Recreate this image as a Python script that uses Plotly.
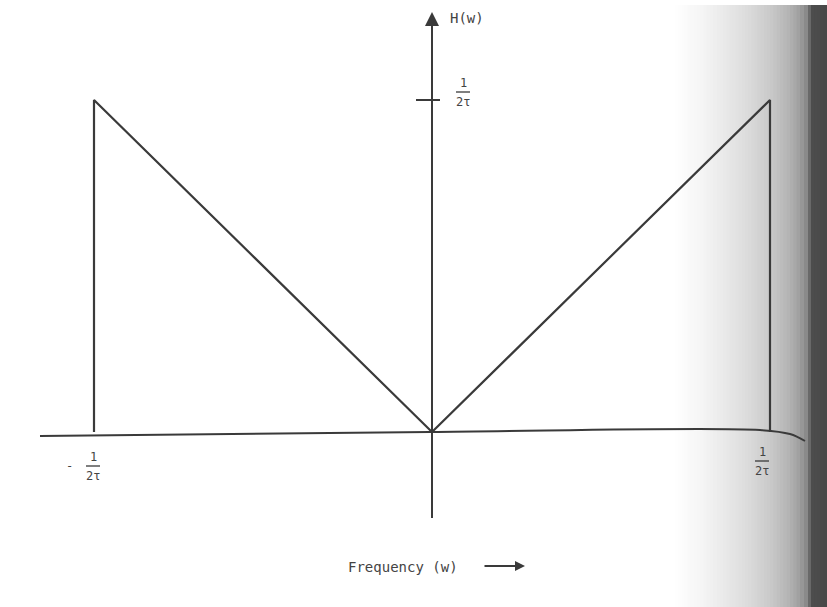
import plotly.graph_objects as go

# Ramp filter |w| up to cutoff 1/(2*tau); frequency in units of 1/tau
freq = [-0.5, -0.5, 0.0, 0.5, 0.5]
H = [0.0, 0.5, 0.0, 0.5, 0.0]
cutoff = 0.5
peak = 0.5
tick_label = "2τ"

W, Hpx = 827, 607
x0px, y0px = 432, 432
sx, sy = 676.0, 664.0
xr = [-x0px / sx, (W - x0px) / sx]
yr = [-(Hpx - y0px) / sy, y0px / sy]

def X(px):
    return (px - x0px) / sx

def Y(py):
    return (y0px - py) / sy

def PX(px):
    return px / W

ink = "#3a3a3a"
fig = go.Figure()

# scanner shadow on right edge
grad = [(675, 255), (700, 246), (720, 236), (745, 222), (770, 202), (790, 178), (800, 158), (808, 132), (811, 78), (827, 72)]
for i in range(len(grad) - 1):
    (pa, ga), (pb, gb) = grad[i], grad[i + 1]
    steps = max(1, (pb - pa) // 3)
    for k in range(steps):
        xa = pa + (pb - pa) * k / steps
        xb = pa + (pb - pa) * (k + 1) / steps
        g = int(ga + (gb - ga) * (k + 0.5) / steps)
        fig.add_shape(type="rect", xref="paper", yref="paper", x0=PX(xa), x1=min(1.0, PX(xb) + 0.0015),
                      y0=0, y1=1 - 5 / Hpx, line_width=0, fillcolor=f"rgb({g},{g},{g})", layer="below")

# horizontal axis (slight curl at right end like the drawing)
fig.add_trace(go.Scatter(x=[X(40), X(430), X(760), X(790), X(805)], y=[Y(436), Y(432), Y(430), Y(434), Y(441)],
                         mode="lines", line=dict(color=ink, width=2, shape="spline"), hoverinfo="skip"))
# vertical axis
fig.add_trace(go.Scatter(x=[0, 0], y=[Y(518), Y(22)], mode="lines",
                         line=dict(color=ink, width=2), hoverinfo="skip"))
fig.add_annotation(x=0, y=Y(12), ax=0, ay=Y(40), xref="x", yref="y", axref="x", ayref="y",
                   showarrow=True, arrowhead=2, arrowsize=1.4, arrowwidth=2, arrowcolor=ink, text="")
# tick on vertical axis at 1/(2 tau)
fig.add_trace(go.Scatter(x=[X(416), X(440)], y=[peak, peak], mode="lines",
                         line=dict(color=ink, width=2), hoverinfo="skip"))

# the filter
fig.add_trace(go.Scatter(x=freq, y=H, mode="lines", line=dict(color=ink, width=2.2), hoverinfo="skip"))

font = dict(family="DejaVu Sans Mono", size=14, color="#444444")
sfont = dict(family="DejaVu Sans Mono", size=12, color="#444444")

def frac(cx, top_py, minus=False):
    fig.add_annotation(x=X(cx), y=Y(top_py), text="1", showarrow=False, font=sfont)
    fig.add_shape(type="line", x0=X(cx - 7), x1=X(cx + 7), y0=Y(top_py + 9), y1=Y(top_py + 9),
                  line=dict(color=ink, width=1.3))
    fig.add_annotation(x=X(cx), y=Y(top_py + 19), text=tick_label, showarrow=False, font=sfont)
    if minus:
        fig.add_annotation(x=X(cx - 24), y=Y(top_py + 9), text="-", showarrow=False, font=sfont)

frac(463, 83)
frac(93, 457, minus=True)
frac(762, 452)

fig.add_annotation(x=X(467), y=Y(18), text="H(w)", showarrow=False, font=font)
fig.add_annotation(x=X(403), y=Y(567), text="Frequency (w)", showarrow=False, font=font)
fig.add_annotation(x=X(525), y=Y(566), ax=X(483), ay=Y(566), xref="x", yref="y", axref="x", ayref="y",
                   showarrow=True, arrowhead=2, arrowsize=1, arrowwidth=2, arrowcolor=ink, text="")

fig.update_layout(width=W, height=Hpx, margin=dict(l=0, r=0, t=0, b=0), showlegend=False,
                  plot_bgcolor="white", paper_bgcolor="white",
                  xaxis=dict(range=xr, visible=False, fixedrange=True),
                  yaxis=dict(range=yr, visible=False, fixedrange=True))
fig.write_html("out.html", config={"displayModeBar": False},
               post_script="document.body.style.margin='0';document.body.style.overflow='hidden';")
